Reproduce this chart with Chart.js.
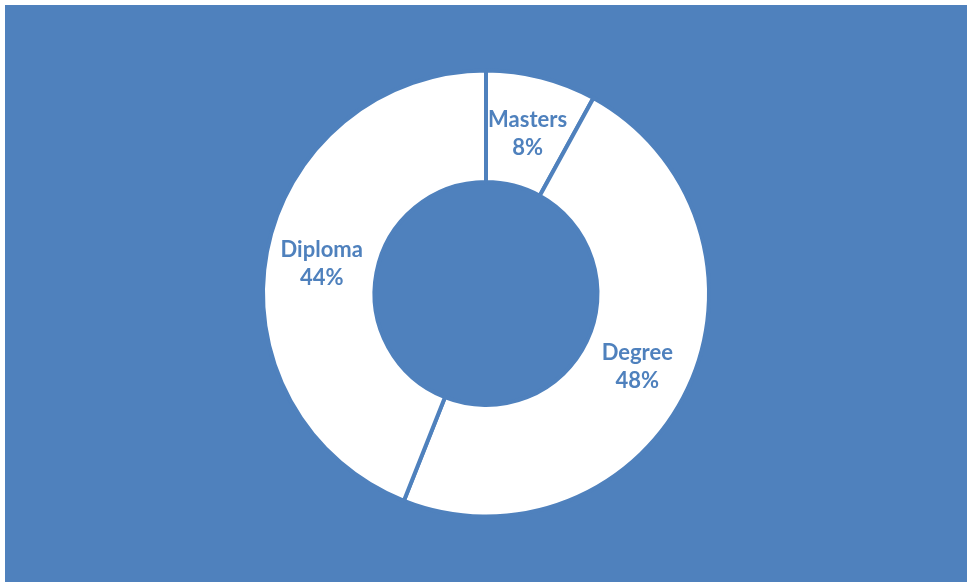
<!DOCTYPE html>
<html>
<head>
<meta charset="utf-8">
<script src="https://cdn.jsdelivr.net/npm/chart.js@4.4.1/dist/chart.umd.min.js"></script>
<style>
  html, body { margin: 0; padding: 0; background: #ffffff; }
  #wrap { position: absolute; left: 5px; top: 5px; width: 962px; height: 577px; background: #4f81bd; }
</style>
</head>
<body>
<div id="wrap"><canvas id="myChart" width="962" height="577"></canvas></div>
<script>
// education level split
const levels = ['Masters', 'Degree', 'Diploma'];
const shares = [8, 48, 44];

const blue = '#4f81bd';

// writes "name / value%" in the middle of each slice
const sliceLabels = {
	id: 'sliceLabels',
	afterDatasetsDraw(chart) {
		const ctx = chart.ctx;
		const arcs = chart.getDatasetMeta(0).data;
		ctx.save();
		ctx.fillStyle = blue;
		ctx.font = 'bold 22px Lato';
		ctx.textAlign = 'center';
		ctx.textBaseline = 'middle';
		arcs.forEach((arc, i) => {
			const p = arc.getCenterPoint();
			ctx.fillText(levels[i], p.x, p.y - 12);
			ctx.fillText(shares[i] + '%', p.x, p.y + 16);
		});
		ctx.restore();
	}
};

const myChart = document.getElementById('myChart').getContext('2d');
const doughnut = new Chart(myChart, {
	type: 'doughnut',
	data: {
		labels: levels,
		datasets: [{
			data: shares,
			backgroundColor: '#ffffff',
			borderColor: blue,
			borderWidth: 4
		}]
	},
	options: {
		responsive: false,
		animation: false,
		radius: 223,
		cutout: '50%',
		layout: { padding: 0 },
		plugins: {
			legend: { display: false },
			tooltip: { enabled: false }
		}
	},
	plugins: [sliceLabels]
});
</script>
</body>
</html>
